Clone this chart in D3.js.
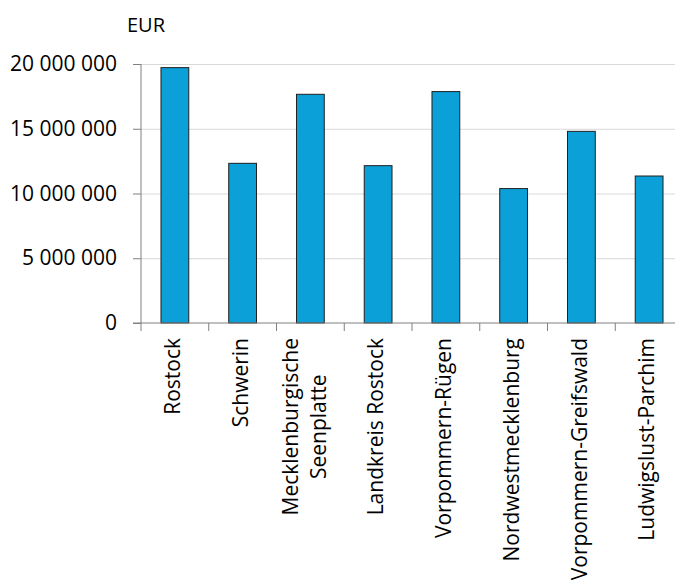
<!DOCTYPE html>
<html>
<head>
<meta charset="utf-8">
<script src="https://cdn.jsdelivr.net/npm/d3@7"></script>
<style>
  body { margin: 0; background: #fff; }
  text { font-family: "Open Sans", sans-serif; fill: #000; }
</style>
</head>
<body>
<svg id="chart" width="675" height="580"></svg>
<script>
// data
const categories = ["Rostock", "Schwerin", "Mecklenburgische\nSeenplatte", "Landkreis Rostock",
  "Vorpommern-Rügen", "Nordwestmecklenburg", "Vorpommern-Greifswald", "Ludwigslust-Parchim"];
const values = [19720000, 12330000, 17660000, 12150000, 17870000, 10380000, 14800000, 11350000];
const yTicks = [0, 5000000, 10000000, 15000000, 20000000];
const unitLabel = "EUR";

const svg = d3.select("#chart");
const plotLeft = 141, plotRight = 683, plotTop = 64, plotBottom = 323;
const fontSize = 21;

const de = d3.formatLocale({decimal: ",", thousands: " ", grouping: [3], currency: ["", " €"]});
const fmt = de.format(",");

const x = d3.scaleBand()
  .domain(categories)
  .range([plotLeft, plotRight])
  .paddingInner(0.59)
  .paddingOuter(0.295);

const y = d3.scaleLinear()
  .domain([0, 20000000])
  .range([plotBottom, plotTop]);

// gridlines
svg.append("g")
  .attr("transform", `translate(${plotLeft},0)`)
  .call(d3.axisLeft(y).tickValues(yTicks.slice(1)).tickSize(-(plotRight - plotLeft)).tickFormat(""))
  .call(g => g.select(".domain").remove())
  .call(g => g.selectAll("line").attr("stroke", "#d9d9d9").attr("stroke-width", 1));

// bars
svg.append("g").selectAll("rect")
  .data(values)
  .enter().append("rect")
    .attr("x", (d, i) => x(categories[i]))
    .attr("y", d => y(d))
    .attr("width", x.bandwidth())
    .attr("height", d => y(0) - y(d))
    .attr("fill", "#0ba0d8")
    .attr("stroke", "#1f1f1f")
    .attr("stroke-width", 1);

// y axis
svg.append("g")
  .attr("transform", `translate(${plotLeft},0)`)
  .call(d3.axisLeft(y).tickValues(yTicks).tickSize(8).tickPadding(16).tickFormat(fmt))
  .call(g => g.select(".domain").attr("stroke", "#808080").attr("d", `M0,${plotTop}V${plotBottom}`))
  .call(g => g.selectAll("line").attr("stroke", "#808080"))
  .call(g => g.selectAll("text")
    .style("font-family", "Open Sans")
    .style("font-size", fontSize + "px")
    .attr("fill", "#000"));

// x axis line and boundary ticks
const step = x.step();
const bounds = categories.map(c => x(c) - step * x.paddingInner() / 2);
bounds.push(plotRight);
const xa = svg.append("g");
xa.append("line")
  .attr("x1", plotLeft - 8).attr("x2", plotRight)
  .attr("y1", y(0)).attr("y2", y(0))
  .attr("stroke", "#808080");
xa.selectAll(".tick")
  .data(bounds)
  .enter().append("line")
    .attr("x1", d => d).attr("x2", d => d)
    .attr("y1", y(0)).attr("y2", y(0) + 8)
    .attr("stroke", "#808080");

// category labels, rotated
const labels = svg.append("g").selectAll("g")
  .data(categories)
  .enter().append("g")
    .attr("transform", d => {
      const n = d.split("\n").length;
      return `translate(${x(d) + x.bandwidth() / 2 - 2 - 4 * (n - 1)},338) rotate(-90)`;
    });

labels.each(function(d) {
  const lines = d.split("\n");
  const t = d3.select(this).append("text")
    .style("font-size", fontSize + "px")
    .attr("text-anchor", "middle");
  t.selectAll("tspan")
    .data(lines)
    .enter().append("tspan")
      .attr("x", 0)
      .attr("dy", (l, i) => i === 0 ? (0.35 - 0.665 * (lines.length - 1)) + "em" : "1.33em")
      .text(l => l);
  const w = d3.max(t.selectAll("tspan").nodes(), n => n.getComputedTextLength());
  t.selectAll("tspan").attr("x", -w / 2);
});

// unit label
svg.append("text")
  .attr("x", 127)
  .attr("y", 32)
  .style("font-size", (fontSize - 1) + "px")
  .text(unitLabel);
</script>
</body>
</html>
